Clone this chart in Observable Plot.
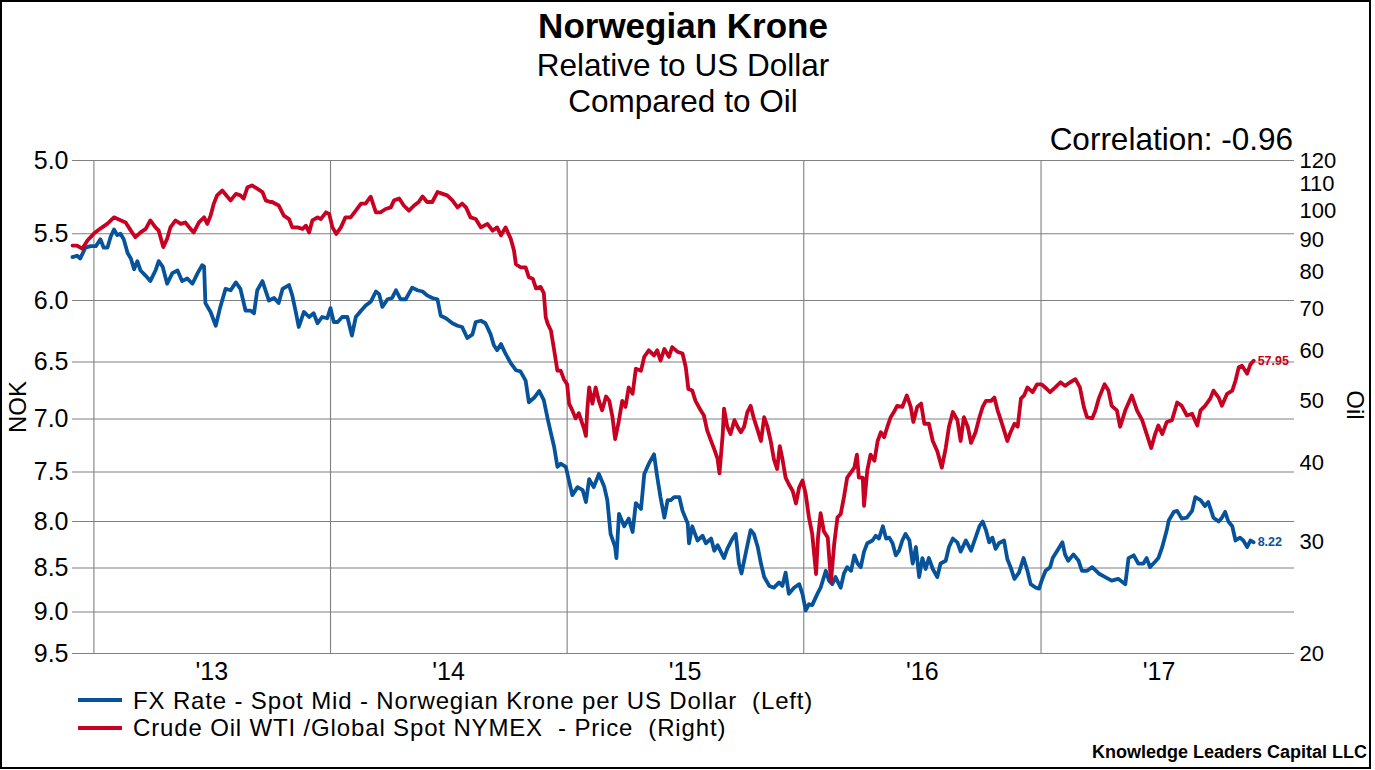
<!DOCTYPE html>
<html><head><meta charset="utf-8">
<script src="https://cdn.jsdelivr.net/npm/d3@7"></script>
<script src="https://cdn.jsdelivr.net/npm/@observablehq/plot@0.6"></script>
<style>
html,body{margin:0;padding:0;background:#fff;}
body{width:1375px;height:770px;position:relative;overflow:hidden;font-family:"Liberation Sans",Arial,sans-serif;color:#000;}
#frame{position:absolute;left:0;top:0;width:1371px;height:769px;border:2px solid #000;box-sizing:border-box;}
.t{position:absolute;white-space:pre;line-height:1;}
.lg{font-size:24px;letter-spacing:0.85px;}
.sw{position:absolute;width:44px;height:4px;}
</style></head>
<body>
<div id="frame"></div>
<div class="t" style="left:0;width:1366px;text-align:center;top:8px;font-size:35px;font-weight:bold">Norwegian Krone</div>
<div class="t" style="left:0;width:1366px;text-align:center;top:50px;font-size:31.5px">Relative to US Dollar</div>
<div class="t" style="left:0;width:1366px;text-align:center;top:86px;font-size:31.5px">Compared to Oil</div>
<div class="t" style="right:82px;top:124px;font-size:31.5px">Correlation: -0.96</div>
<div id="chart" style="position:absolute;left:0;top:150px"></div>
<div class="t" style="left:18px;top:407px;font-size:24px;transform:translate(-50%,-50%) rotate(-90deg)">NOK</div>
<div class="t" style="left:1355px;top:405px;font-size:24px;transform:translate(-50%,-50%) rotate(90deg)">Oil</div>
<div class="sw" id="sw1" style="left:78px;top:698px"></div>
<div class="t lg" style="left:133px;top:689px">FX Rate - Spot Mid - Norwegian Krone per US Dollar  (Left)</div>
<div class="sw" id="sw2" style="left:78px;top:726px"></div>
<div class="t lg" style="left:133px;top:716px">Crude Oil WTI /Global Spot NYMEX  - Price  (Right)</div>
<div class="t" style="right:8px;top:743px;font-size:18px;font-weight:bold">Knowledge Leaders Capital LLC</div>
<script>
const nokTicks = [5.0, 5.5, 6.0, 6.5, 7.0, 7.5, 8.0, 8.5, 9.0, 9.5];
const oilTicks = [20, 30, 40, 50, 60, 70, 80, 90, 100, 110, 120];
const yearTicks = [2013, 2014, 2015, 2016, 2017];

const nokDates = ["2012-11-29","2012-12-06","2012-12-11","2012-12-19","2012-12-27","2013-01-04","2013-01-11","2013-01-16","2013-01-22","2013-01-27","2013-02-01","2013-02-06","2013-02-11","2013-02-16","2013-02-22","2013-02-27","2013-03-04","2013-03-09","2013-03-14","2013-03-22","2013-03-29","2013-04-06","2013-04-11","2013-04-17","2013-04-24","2013-05-02","2013-05-10","2013-05-17","2013-05-25","2013-06-02","2013-06-10","2013-06-17","2013-06-20","2013-06-22","2013-06-30","2013-07-08","2013-07-15","2013-07-23","2013-07-31","2013-08-08","2013-08-15","2013-08-23","2013-08-31","2013-09-05","2013-09-10","2013-09-18","2013-09-28","2013-10-06","2013-10-13","2013-10-19","2013-10-29","2013-11-03","2013-11-08","2013-11-13","2013-11-21","2013-11-29","2013-12-06","2013-12-12","2013-12-19","2013-12-27","2014-01-01","2014-01-06","2014-01-12","2014-01-19","2014-01-27","2014-02-03","2014-02-09","2014-02-17","2014-02-24","2014-03-04","2014-03-12","2014-03-17","2014-03-22","2014-03-30","2014-04-06","2014-04-12","2014-04-19","2014-04-27","2014-05-07","2014-05-15","2014-05-23","2014-05-30","2014-06-07","2014-06-15","2014-06-20","2014-06-28","2014-07-08","2014-07-16","2014-07-23","2014-07-31","2014-08-08","2014-08-13","2014-08-21","2014-08-28","2014-09-05","2014-09-10","2014-09-15","2014-09-21","2014-09-28","2014-10-06","2014-10-14","2014-10-21","2014-10-29","2014-11-03","2014-11-11","2014-11-19","2014-11-26","2014-12-02","2014-12-07","2014-12-12","2014-12-17","2014-12-22","2014-12-30","2015-01-04","2015-01-09","2015-01-17","2015-01-25","2015-01-30","2015-02-04","2015-02-11","2015-02-19","2015-02-27","2015-03-04","2015-03-09","2015-03-16","2015-03-18","2015-03-22","2015-03-30","2015-04-06","2015-04-12","2015-04-17","2015-04-25","2015-04-30","2015-05-07","2015-05-15","2015-05-20","2015-05-25","2015-05-31","2015-06-05","2015-06-10","2015-06-15","2015-06-23","2015-06-28","2015-07-06","2015-07-08","2015-07-13","2015-07-21","2015-07-29","2015-08-03","2015-08-11","2015-08-16","2015-08-21","2015-08-26","2015-08-31","2015-09-05","2015-09-13","2015-09-18","2015-09-23","2015-09-27","2015-10-04","2015-10-11","2015-10-16","2015-10-22","2015-10-27","2015-11-01","2015-11-09","2015-11-16","2015-11-24","2015-11-29","2015-12-04","2015-12-09","2015-12-17","2015-12-25","2015-12-30","2016-01-04","2016-01-09","2016-01-14","2016-01-22","2016-01-27","2016-02-04","2016-02-09","2016-02-14","2016-02-19","2016-02-27","2016-03-03","2016-03-08","2016-03-14","2016-03-19","2016-03-24","2016-03-29","2016-04-03","2016-04-08","2016-04-16","2016-04-21","2016-04-26","2016-05-02","2016-05-07","2016-05-12","2016-05-17","2016-05-22","2016-05-27","2016-06-01","2016-06-06","2016-06-12","2016-06-17","2016-06-22","2016-06-27","2016-07-02","2016-07-07","2016-07-12","2016-07-18","2016-07-25","2016-07-30","2016-08-07","2016-08-12","2016-08-18","2016-08-25","2016-08-30","2016-09-07","2016-09-15","2016-09-22","2016-09-28","2016-10-03","2016-10-08","2016-10-13","2016-10-18","2016-10-23","2016-10-28","2016-11-05","2016-11-10","2016-11-15","2016-11-21","2016-11-28","2016-12-05","2016-12-11","2016-12-16","2016-12-24","2016-12-29","2017-01-02","2017-01-08","2017-01-15","2017-01-19","2017-01-26","2017-02-03","2017-02-07","2017-02-12","2017-02-20","2017-02-28","2017-03-05","2017-03-13","2017-03-21","2017-03-31","2017-04-10","2017-04-20","2017-04-30","2017-05-11","2017-05-16","2017-05-24","2017-05-31","2017-06-08","2017-06-13","2017-06-18","2017-06-26","2017-07-01","2017-07-07","2017-07-14","2017-07-17","2017-07-25","2017-07-30","2017-08-06","2017-08-14","2017-08-22","2017-08-27","2017-09-04","2017-09-11","2017-09-16","2017-09-24","2017-10-02","2017-10-07","2017-10-12","2017-10-17","2017-10-23","2017-10-28","2017-11-04","2017-11-09","2017-11-15","2017-11-20","2017-11-25"];
const nokValues = [5.67,5.66,5.68,5.60,5.59,5.59,5.54,5.60,5.60,5.52,5.47,5.51,5.50,5.54,5.64,5.68,5.76,5.70,5.77,5.81,5.85,5.77,5.70,5.74,5.87,5.79,5.77,5.85,5.83,5.87,5.79,5.73,5.74,6.02,6.09,6.20,6.05,5.91,5.92,5.86,5.91,6.08,6.08,6.10,5.92,5.85,6.00,5.98,6.02,5.91,5.88,5.96,6.08,6.21,6.09,6.13,6.10,6.18,6.13,6.14,6.06,6.17,6.17,6.13,6.13,6.28,6.13,6.08,6.04,6.01,5.93,5.95,6.05,5.99,5.98,5.92,5.99,5.99,5.90,5.92,5.93,5.96,5.98,5.99,6.12,6.14,6.18,6.20,6.21,6.30,6.27,6.17,6.16,6.18,6.27,6.36,6.40,6.35,6.43,6.51,6.57,6.58,6.66,6.85,6.81,6.75,6.83,7.00,7.13,7.26,7.45,7.42,7.45,7.59,7.73,7.65,7.68,7.80,7.57,7.65,7.52,7.64,7.78,8.13,8.27,8.39,7.92,8.05,7.97,8.11,7.81,7.87,7.52,7.42,7.33,7.55,7.75,7.96,7.78,7.78,7.75,7.75,7.89,8.02,8.23,8.05,8.20,8.15,8.23,8.18,8.31,8.25,8.32,8.39,8.29,8.18,8.13,8.45,8.56,8.32,8.09,8.13,8.27,8.45,8.60,8.70,8.72,8.66,8.70,8.55,8.79,8.72,8.68,8.79,8.98,8.91,8.92,8.79,8.72,8.53,8.64,8.68,8.60,8.72,8.56,8.49,8.53,8.36,8.45,8.49,8.32,8.23,8.20,8.15,8.18,8.05,8.18,8.17,8.23,8.36,8.31,8.20,8.13,8.20,8.45,8.27,8.60,8.39,8.51,8.39,8.51,8.60,8.45,8.42,8.27,8.18,8.22,8.32,8.20,8.31,8.17,8.05,8.00,8.09,8.22,8.17,8.29,8.23,8.20,8.40,8.49,8.62,8.55,8.39,8.53,8.68,8.72,8.73,8.64,8.53,8.49,8.39,8.31,8.22,8.35,8.42,8.35,8.42,8.53,8.53,8.49,8.56,8.60,8.64,8.62,8.68,8.39,8.36,8.45,8.45,8.39,8.49,8.43,8.39,8.27,8.09,7.99,7.90,7.89,7.97,7.96,7.89,7.75,7.78,7.84,7.80,7.96,8.00,7.96,7.90,8.00,8.05,8.20,8.17,8.20,8.27,8.20,8.22];

const oilDates = ["2012-11-29","2012-12-06","2012-12-14","2012-12-22","2013-01-01","2013-01-11","2013-01-22","2013-02-01","2013-02-11","2013-02-19","2013-02-27","2013-03-06","2013-03-14","2013-03-22","2013-03-29","2013-04-06","2013-04-11","2013-04-18","2013-04-24","2013-04-29","2013-05-07","2013-05-15","2013-05-22","2013-05-30","2013-06-04","2013-06-12","2013-06-20","2013-06-25","2013-06-30","2013-07-05","2013-07-10","2013-07-18","2013-07-26","2013-07-31","2013-08-08","2013-08-15","2013-08-20","2013-08-26","2013-09-02","2013-09-10","2013-09-18","2013-09-23","2013-09-30","2013-10-03","2013-10-13","2013-10-21","2013-10-29","2013-11-03","2013-11-11","2013-11-19","2013-11-24","2013-11-29","2013-12-04","2013-12-12","2013-12-17","2013-12-25","2013-12-30","2014-01-04","2014-01-10","2014-01-17","2014-01-24","2014-02-01","2014-02-09","2014-02-17","2014-02-24","2014-03-04","2014-03-12","2014-03-19","2014-03-27","2014-04-04","2014-04-09","2014-04-17","2014-04-24","2014-05-02","2014-05-10","2014-05-17","2014-05-23","2014-05-30","2014-06-07","2014-06-15","2014-06-23","2014-06-30","2014-07-08","2014-07-16","2014-07-23","2014-07-29","2014-08-05","2014-08-13","2014-08-21","2014-08-31","2014-09-08","2014-09-15","2014-09-21","2014-09-28","2014-10-06","2014-10-11","2014-10-14","2014-10-21","2014-10-29","2014-11-03","2014-11-09","2014-11-14","2014-11-21","2014-11-26","2014-11-29","2014-12-02","2014-12-07","2014-12-12","2014-12-17","2014-12-22","2014-12-27","2015-01-01","2015-01-04","2015-01-09","2015-01-14","2015-01-19","2015-01-27","2015-01-30","2015-02-01","2015-02-04","2015-02-09","2015-02-14","2015-02-19","2015-02-24","2015-03-02","2015-03-07","2015-03-12","2015-03-16","2015-03-21","2015-03-27","2015-04-01","2015-04-06","2015-04-12","2015-04-17","2015-04-25","2015-04-30","2015-05-07","2015-05-15","2015-05-20","2015-05-25","2015-05-31","2015-06-07","2015-06-12","2015-06-20","2015-06-28","2015-07-03","2015-07-07","2015-07-13","2015-07-18","2015-07-26","2015-07-31","2015-08-05","2015-08-11","2015-08-16","2015-08-21","2015-08-24","2015-08-29","2015-08-31","2015-09-05","2015-09-10","2015-09-16","2015-09-21","2015-09-26","2015-10-01","2015-10-06","2015-10-11","2015-10-16","2015-10-22","2015-10-27","2015-11-01","2015-11-06","2015-11-11","2015-11-16","2015-11-21","2015-11-25","2015-11-29","2015-12-04","2015-12-09","2015-12-15","2015-12-20","2015-12-25","2015-12-30","2016-01-04","2016-01-09","2016-01-14","2016-01-20","2016-01-23","2016-01-27","2016-02-01","2016-02-07","2016-02-12","2016-02-17","2016-02-22","2016-02-27","2016-03-03","2016-03-08","2016-03-16","2016-03-19","2016-03-23","2016-03-26","2016-04-01","2016-04-03","2016-04-08","2016-04-13","2016-04-19","2016-04-24","2016-04-29","2016-05-04","2016-05-09","2016-05-14","2016-05-19","2016-05-24","2016-06-01","2016-06-08","2016-06-14","2016-06-18","2016-06-24","2016-06-30","2016-07-05","2016-07-12","2016-07-18","2016-07-25","2016-08-01","2016-08-07","2016-08-12","2016-08-18","2016-08-25","2016-08-30","2016-09-04","2016-09-10","2016-09-15","2016-09-22","2016-09-28","2016-10-03","2016-10-08","2016-10-16","2016-10-21","2016-10-26","2016-10-31","2016-11-05","2016-11-10","2016-11-15","2016-11-21","2016-11-26","2016-12-01","2016-12-06","2016-12-11","2016-12-19","2016-12-26","2017-01-02","2017-01-10","2017-01-15","2017-01-23","2017-01-31","2017-02-07","2017-02-15","2017-02-23","2017-03-02","2017-03-08","2017-03-13","2017-03-21","2017-03-26","2017-03-31","2017-04-09","2017-04-15","2017-04-20","2017-04-28","2017-05-03","2017-05-11","2017-05-21","2017-05-29","2017-06-06","2017-06-13","2017-06-20","2017-06-26","2017-07-01","2017-07-07","2017-07-14","2017-07-22","2017-07-30","2017-08-06","2017-08-14","2017-08-22","2017-08-30","2017-09-04","2017-09-11","2017-09-19","2017-09-24","2017-10-02","2017-10-07","2017-10-15","2017-10-23","2017-10-28","2017-11-02","2017-11-07","2017-11-15","2017-11-20","2017-11-25"];
const oilValues = [88.1,88.1,87.1,89.7,92.0,93.7,95.4,97.6,96.6,95.8,93.0,90.8,92.4,93.6,96.5,94.1,93.0,87.6,90.3,94.1,96.5,95.3,95.8,93.6,92.4,95.8,97.6,95.3,98.2,102.6,105.7,107.6,105.2,103.8,106.3,105.7,104.5,108.9,109.6,108.3,107.0,103.8,103.2,103.2,101.9,98.2,97.0,94.1,94.1,93.6,94.7,92.4,96.5,97.6,97.0,99.4,98.8,94.1,91.9,94.1,97.6,97.6,100.0,102.6,102.6,105.2,99.4,99.4,100.6,101.2,103.8,104.5,101.9,100.0,101.9,103.2,105.3,103.2,103.2,107.0,106.3,105.7,103.8,101.2,102.6,101.2,97.6,97.0,94.1,95.3,93.0,94.1,91.4,94.1,90.3,86.5,82.3,81.4,81.4,78.5,78.1,75.4,75.8,74.1,67.9,66.3,64.7,60.2,55.9,55.9,54.2,53.2,49.6,48.4,47.0,47.9,45.3,44.1,48.4,52.6,49.6,52.6,50.1,48.4,50.9,50.1,47.2,43.6,46.1,50.1,49.0,52.6,51.4,56.3,55.9,58.8,60.2,59.1,60.2,58.0,60.5,58.8,60.9,59.9,59.5,56.6,52.3,52.0,50.1,48.4,47.5,45.0,43.3,42.0,40.6,38.5,44.4,48.7,45.6,44.4,46.7,45.6,44.7,45.6,48.1,49.2,47.0,45.0,43.3,47.2,45.6,43.3,40.5,39.1,42.5,40.6,37.9,37.0,36.1,34.5,36.6,37.5,35.7,32.8,30.9,26.7,30.5,33.3,31.2,30.5,26.0,29.8,32.8,33.2,35.3,37.9,38.9,39.3,41.2,37.9,37.9,34.2,38.9,41.2,40.3,43.3,44.7,43.9,45.6,47.2,48.1,49.2,49.0,51.1,49.0,46.4,49.0,49.6,46.1,46.1,43.3,41.7,39.3,42.2,45.6,48.1,46.7,43.3,47.2,45.6,43.0,44.7,47.2,49.0,50.1,50.1,50.7,48.4,46.7,45.0,43.3,44.7,46.1,45.6,50.5,51.1,52.6,51.7,53.2,53.2,52.3,51.7,52.6,53.6,52.9,53.6,54.2,52.6,49.0,47.2,47.0,48.4,50.5,53.2,52.0,49.2,48.4,45.6,48.4,51.1,48.4,46.7,44.4,42.2,44.4,45.8,44.4,46.4,46.7,49.8,49.2,47.5,47.8,45.8,48.4,49.2,50.5,52.0,50.7,49.2,51.4,52.0,53.9,56.6,56.9,55.3,57.2,57.95];

const blue = "#06539b", red = "#c80022";
document.getElementById("sw1").style.background = blue;
document.getElementById("sw2").style.background = red;

const nokData = nokDates.map((d, i) => ({date: new Date(d), value: nokValues[i]}));
const oilData = oilDates.map((d, i) => ({date: new Date(d), value: oilValues[i]}));

// right (oil) log axis mapped onto the left (NOK) log axis range
const k = Math.log(9.5 / 5) / Math.log(120 / 20);
const toNok = v => 5 * Math.pow(120 / v, k);
const fromNok = n => 120 / Math.pow(n / 5, 1 / k);

const font = '"Liberation Sans", Arial, sans-serif';
const chart = Plot.plot({
  width: 1375, height: 540,
  marginLeft: 72, marginRight: 81, marginTop: 10, marginBottom: 37,
  style: {fontFamily: font, fontSize: "24px", color: "#000", background: "transparent", overflow: "visible"},
  x: {type: "utc", domain: [new Date("2012-11-29"), new Date("2018-01-27")]},
  y: {type: "log", domain: [5, 9.5], reverse: true},
  marks: [
    Plot.gridY(nokTicks, {stroke: "#808080", strokeOpacity: 1, strokeWidth: 1.1}),
    Plot.gridX(yearTicks.map(y => new Date(Date.UTC(y, 0, 1))), {stroke: "#808080", strokeOpacity: 1, strokeWidth: 1.1}),
    Plot.axisY(nokTicks, {anchor: "left", tickSize: 0, tickPadding: 4, tickFormat: d3.format(".1f"), fontSize: 25, label: null}),
    Plot.axisY(oilTicks.map(toNok), {anchor: "right", tickSize: 0, tickPadding: 5, tickFormat: d => String(Math.round(fromNok(d))), fontSize: 22, label: null}),
    Plot.axisX(yearTicks.map(y => new Date(Date.UTC(y, 6, 2))), {anchor: "bottom", tickSize: 0, tickPadding: 9, tickFormat: d => "'" + String(d.getUTCFullYear()).slice(2), fontSize: 25, label: null}),
    Plot.line(nokData, {x: "date", y: "value", stroke: blue, strokeWidth: 3.8, strokeLinejoin: "round"}),
    Plot.line(oilData, {x: "date", y: d => toNok(d.value), stroke: red, strokeWidth: 3.8, strokeLinejoin: "round"}),
    Plot.text([nokData[nokData.length - 1]], {x: "date", y: "value", text: d => d.value.toFixed(2), dx: 4, textAnchor: "start", fill: blue, fontWeight: "bold", fontSize: 12.5}),
    Plot.text([oilData[oilData.length - 1]], {x: "date", y: d => toNok(d.value), text: d => d.value.toFixed(2), dx: 4, textAnchor: "start", fill: red, fontWeight: "bold", fontSize: 12.5})
  ]
});
document.getElementById("chart").appendChild(chart);
</script>
</body></html>
